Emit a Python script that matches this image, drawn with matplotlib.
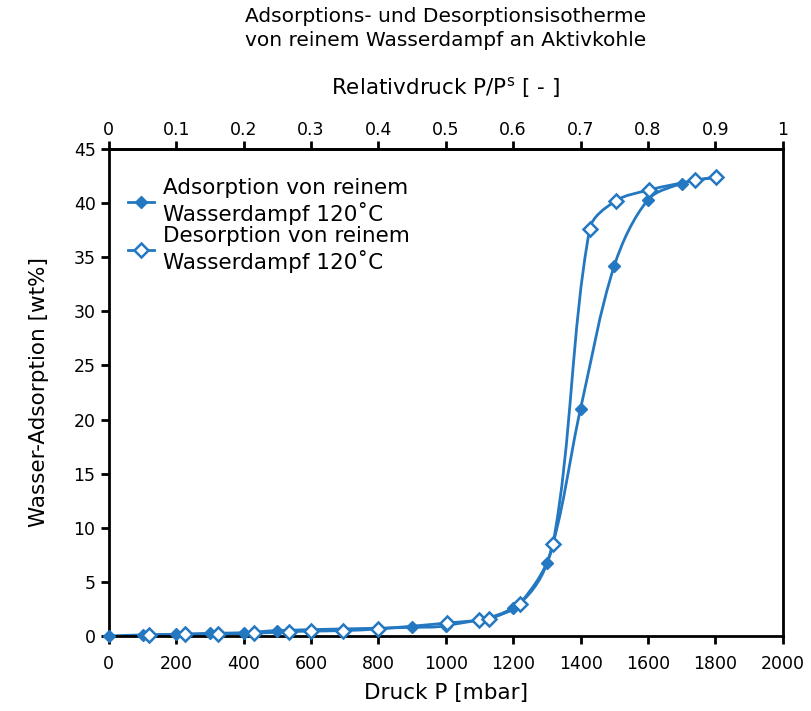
import matplotlib
matplotlib.use("Agg")
import matplotlib.pyplot as plt
from matplotlib.path import Path
from matplotlib.patches import PathPatch
from matplotlib.lines import Line2D
import numpy as np

p_ads = [0, 100, 200, 300, 400, 500, 900, 1000, 1200, 1300, 1400, 1500, 1600, 1700, 1800]
w_ads = [0.0, 0.1, 0.15, 0.25, 0.3, 0.5, 0.8, 0.95, 2.6, 6.7, 21.0, 34.2, 40.3, 41.8, 42.4]

p_des = [120, 225, 325, 430, 535, 600, 695, 800, 1005, 1100, 1128, 1220, 1318, 1427, 1504, 1602, 1740, 1802]
w_des = [0.1, 0.15, 0.2, 0.25, 0.4, 0.45, 0.5, 0.65, 1.2, 1.45, 1.55, 3.0, 8.5, 37.6, 40.2, 41.2, 42.1, 42.4]

x_ticks = list(range(0, 2001, 200))
y_ticks = list(range(0, 46, 5))
rel_ticks = [0, 0.1, 0.2, 0.3, 0.4, 0.5, 0.6, 0.7, 0.8, 0.9, 1]
p_sat = 2000

blue = "#2378c1"


def smooth_path(ax, xs, ys):
    # geglaettete Linie (Bezier, Tangenten nach Sehnenlaenge in Pixeln gewichtet)
    disp = ax.transData.transform(np.column_stack([xs, ys]))
    n = len(disp)
    seg = np.linalg.norm(np.diff(disp, axis=0), axis=1)
    verts = [disp[0]]
    codes = [Path.MOVETO]
    for i in range(n - 1):
        p1, p2 = disp[i], disp[i + 1]
        if i > 0:
            t1 = (disp[i + 1] - disp[i - 1]) * seg[i] / (seg[i - 1] + seg[i]) / 3
        else:
            t1 = (p2 - p1) / 3
        if i + 2 < n:
            t2 = (disp[i + 2] - disp[i]) * seg[i] / (seg[i] + seg[i + 1]) / 3
        else:
            t2 = (p2 - p1) / 3
        verts += [p1 + t1, p2 - t2, p2]
        codes += [Path.CURVE4] * 3
    verts = ax.transData.inverted().transform(np.array(verts))
    return Path(verts, codes)


fig = plt.figure(figsize=(8.12, 7.11), dpi=100)
ax = fig.add_axes([0.134, 0.1055, 0.830, 0.685])
ax.set_xlim(0, 2000)
ax.set_ylim(0, 45)

ax.add_patch(PathPatch(smooth_path(ax, p_ads, w_ads), facecolor="none", edgecolor=blue, lw=2, zorder=2))
ax.add_patch(PathPatch(smooth_path(ax, p_des, w_des), facecolor="none", edgecolor=blue, lw=2, zorder=2))

ax.plot(p_ads, w_ads, linestyle="none", marker="D", markersize=6, color=blue, clip_on=False, zorder=3)
ax.plot(p_des, w_des, linestyle="none", marker="D", markersize=7, markerfacecolor="white",
        markeredgecolor=blue, markeredgewidth=1.8, clip_on=False, zorder=4)

ax.set_xticks(x_ticks)
ax.set_yticks(y_ticks)
ax.tick_params(labelsize=12.5, width=2, length=6, direction="out")
ax.tick_params(axis="x", pad=8)
for s in ax.spines.values():
    s.set_linewidth(2)

ax.set_xlabel("Druck P [mbar]", fontsize=15.5, labelpad=7)
ax.set_ylabel("Wasser-Adsorption [wt%]", fontsize=15.5, labelpad=18)

top = ax.secondary_xaxis("top", functions=(lambda p: p / p_sat, lambda r: r * p_sat))
top.set_xticks(rel_ticks)
top.set_xticklabels([f"{t:g}" for t in rel_ticks])
top.tick_params(labelsize=12.5, width=2, length=6, direction="out", pad=1)
top.spines["top"].set_linewidth(2)
top.set_xlabel("Relativdruck P/P$^{\\mathrm{s}}$ [ - ]", fontsize=15.5, labelpad=19)

fig.text(0.549, 0.99, "Adsorptions- und Desorptionsisotherme\nvon reinem Wasserdampf an Aktivkohle",
         ha="center", va="top", fontsize=14.5, linespacing=1.3)

handles = [
    Line2D([], [], color=blue, lw=2, marker="D", markersize=6),
    Line2D([], [], color=blue, lw=2, marker="D", markersize=7, markerfacecolor="white",
           markeredgecolor=blue, markeredgewidth=1.8),
]
ax.legend(handles, ["Adsorption von reinem\nWasserdampf 120˚C", "Desorption von reinem\nWasserdampf 120˚C"],
          loc="upper left", bbox_to_anchor=(0.0, 0.98), frameon=False, fontsize=15.5,
          handlelength=1.2, handletextpad=0.4, labelspacing=0.05, borderaxespad=0.5)

fig.savefig("out.png", dpi=100)
